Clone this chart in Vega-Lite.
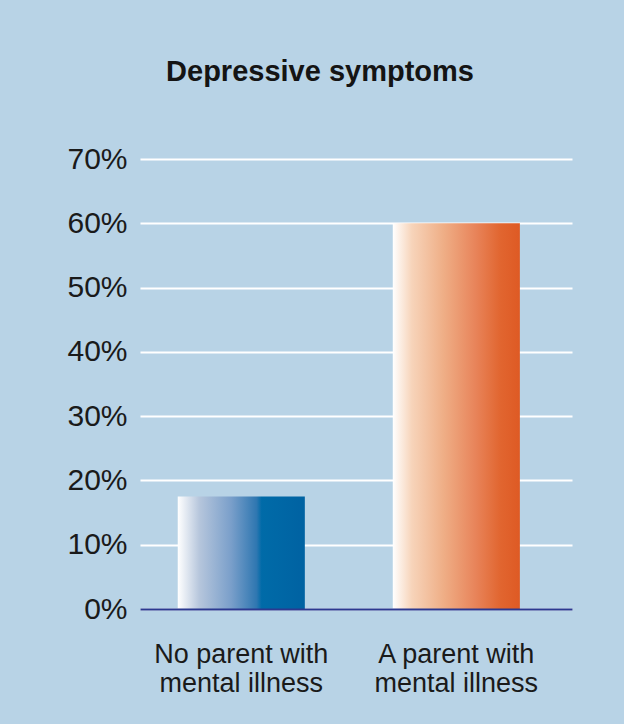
{
  "$schema": "https://vega.github.io/schema/vega-lite/v6.json",
  "autosize": "none",
  "width": 432,
  "height": 450,
  "padding": {"left": 140, "top": 159, "right": 52, "bottom": 115},
  "background": "#b8d3e6",
  "config": {
    "view": {"stroke": null},
    "font": "Liberation Sans"
  },
  "title": {
    "text": "Depressive symptoms",
    "font": "Liberation Sans",
    "fontSize": 29,
    "fontWeight": "bold",
    "color": "#141414",
    "anchor": "middle",
    "frame": "group",
    "baseline": "alphabetic",
    "offset": 34,
    "dx": -36
  },
  "data": {
    "values": [
      {"group": "No parent with mental illness", "pct": 17.5},
      {"group": "A parent with mental illness", "pct": 60}
    ]
  },
  "encoding": {
    "x": {
      "field": "group",
      "type": "nominal",
      "sort": null,
      "scale": {"paddingInner": 0.409, "paddingOuter": 0.209, "align": 0.42},
      "axis": {
        "title": null,
        "domain": true,
        "domainColor": "#2b3990",
        "domainWidth": 2,
        "ticks": false,
        "labelAngle": 0,
        "labelFontSize": 27,
        "labelColor": "#1a1a1a",
        "labelLineHeight": 29,
        "labelPadding": 32,
        "labelBaseline": "top",
        "zindex": 1,
        "labelExpr": "datum.value == 'No parent with mental illness' ? ['No parent with', 'mental illness'] : ['A parent with', 'mental illness']",
        "encode": {
          "labels": {
            "update": {
              "dy": {"signal": "datum.value == 'A parent with mental illness' ? -5 : 0"}
            }
          }
        }
      }
    },
    "y": {
      "field": "pct",
      "type": "quantitative",
      "scale": {"domain": [0, 70], "nice": false},
      "axis": {
        "title": null,
        "domain": false,
        "ticks": false,
        "values": [0, 10, 20, 30, 40, 50, 60, 70],
        "labelExpr": "datum.value + '%'",
        "labelFontSize": 30,
        "labelColor": "#1a1a1a",
        "labelPadding": 13,
        "grid": true,
        "gridColor": "#ffffff",
        "gridWidth": 2,
        "gridOpacity": 1
      }
    }
  },
  "layer": [
    {
      "transform": [{"filter": "datum.group == 'No parent with mental illness'"}],
      "mark": {
        "type": "bar",
        "fill": {
          "gradient": "linear",
          "x1": 0, "y1": 0, "x2": 1, "y2": 0,
          "stops": [
            {"offset": 0, "color": "#ffffff"},
            {"offset": 0.17, "color": "#b6c6dc"},
            {"offset": 0.42, "color": "#7a9fca"},
            {"offset": 0.62, "color": "#2f77b1"},
            {"offset": 0.66, "color": "#006ba8"},
            {"offset": 1, "color": "#0062a2"}
          ]
        }
      }
    },
    {
      "transform": [{"filter": "datum.group == 'A parent with mental illness'"}],
      "mark": {
        "type": "bar",
        "fill": {
          "gradient": "linear",
          "x1": 0, "y1": 0, "x2": 1, "y2": 0,
          "stops": [
            {"offset": 0, "color": "#ffffff"},
            {"offset": 0.15, "color": "#f7d4ba"},
            {"offset": 0.4, "color": "#efae86"},
            {"offset": 0.65, "color": "#e8845a"},
            {"offset": 0.85, "color": "#e1652f"},
            {"offset": 1, "color": "#de5a24"}
          ]
        }
      }
    }
  ]
}
